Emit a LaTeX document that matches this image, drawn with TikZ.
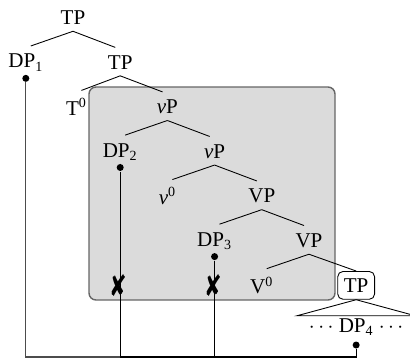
\documentclass[tikz,border=0pt]{standalone}
\usepackage{fontspec}
\setmainfont{Liberation Serif}
\newfontfamily\crossfont{DejaVu Sans}
\usepackage{tikz}
\usetikzlibrary{positioning}

\begin{document}
\begin{tikzpicture}[x=0.57pt,y=-0.57pt,node distance=25.4pt and 26.9pt,on grid,semithick,
  font=\fontsize{12}{14}\selectfont]
\tikzstyle{every node}=[text=black]
\tikzstyle{branch}=[draw=black,line width=0.5pt,shorten >=3pt]
\tikzstyle{boxed}=[draw=black,line width=0.5pt,rounded corners=3pt,inner xsep=3.5pt,inner ysep=4pt]
\tikzstyle{dot}=[circle,fill=black,inner sep=0pt,minimum size=4pt]
\tikzstyle{chain}=[draw=black,line width=0.6pt]
\tikzstyle{cross}=[font=\crossfont\fontsize{12}{12}\selectfont,inner sep=0pt,yscale=1.4,xshift=-1pt]
\useasboundingbox (0,0) rectangle (410,359);
% shaded part of the tree
\filldraw[fill=black!14,draw=black!60,line width=0.8pt,rounded corners=4pt] (89,87) rectangle (335,300);
\node (TP) at (73,18) {TP};
\node (DP1) [below left=of TP] {DP\textsubscript{1}};
\node (TPb) [below right=of TP] {TP};
\node (T0) [below left=of TPb,xshift=2pt] {T\textsuperscript{0}};
\node (vP) [below right=of TPb] {\textit{v}P};
\node (DP2) [below left=of vP] {DP\textsubscript{2}};
\node (vPb) [below right=of vP] {\textit{v}P};
\node (v0) [below left=of vPb] {\textit{v}\textsuperscript{0}};
\node (VP) [below right=of vPb] {VP};
\node (DP3) [below left=of VP] {DP\textsubscript{3}};
\node (VPb) [below right=of VP] {VP};
\node (V0) [below left=of VPb] {V\textsuperscript{0}};
\node[boxed] (TPc) [below right=of VPb] {TP};
\node (DP4) [below=24pt of TPc] {$\cdots$ DP\textsubscript{4} $\cdots$};
\path[branch] (TP.south) edge (DP1.north) edge (TPb.north)
      (TPb.south) edge (T0.north) edge (vP.north)
      (vP.south) edge (DP2.north) edge (vPb.north)
      (vPb.south) edge (v0.north) edge (VP.north)
      (VP.south) edge (DP3.north) edge (VPb.north)
      (VPb.south) edge (V0.north) edge[shorten >=0pt] (TPc.north);
% triangle over the embedded clause
\draw[line width=0.5pt] (TPc.south) -- ++(-59,16) -- ++(118,0) -- cycle;
% movement chains
\node[dot] (d1) [below=9pt of DP1] {};
\node[dot] (d2) [below=9pt of DP2] {};
\node[dot] (d3) [below=9pt of DP3] {};
\node[dot] (d4) [below=10pt of DP4] {};
\coordinate (bot) at (0,357);
\draw[chain,draw=black!70] (d1) -- (d1 |- bot) -| (d4);
\draw[chain] (d2) -- (d2 |- bot) -| (d4);
\draw[chain] (d3) -- (d3 |- bot) -| (d4);
\node[cross] (x2) at (d2 |- V0) {✘};
\node[cross] (x3) at (d3 |- V0) {✘};
\end{tikzpicture}
\end{document}
